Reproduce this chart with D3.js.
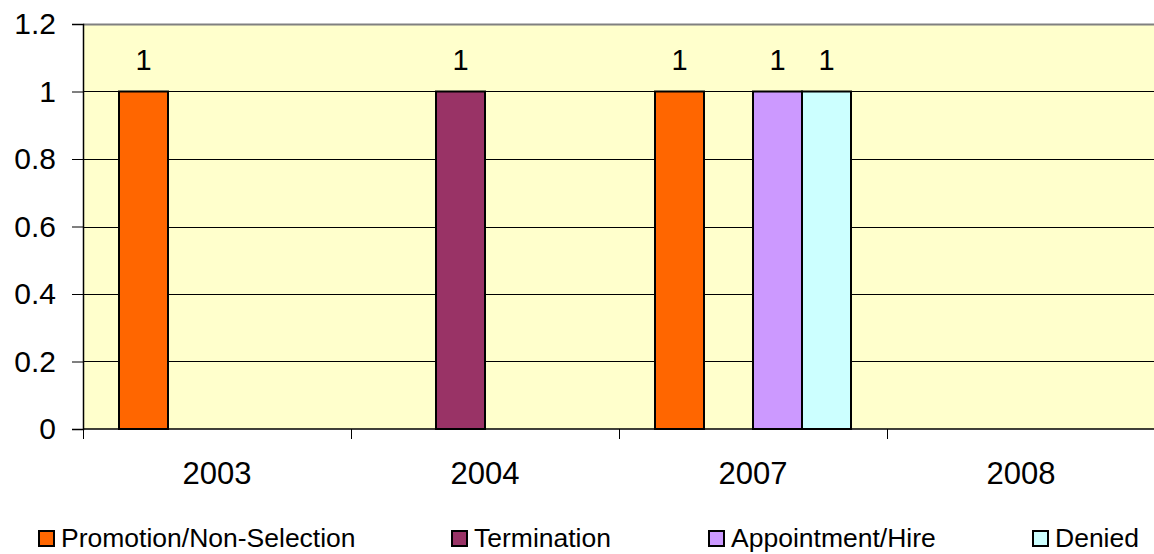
<!DOCTYPE html>
<html>
<head>
<meta charset="utf-8">
<script src="https://cdn.jsdelivr.net/npm/d3@7"></script>
<style>
  html, body { margin: 0; padding: 0; background: #fff; }
  svg { display: block; font-family: Arial, "Liberation Sans", sans-serif; }
</style>
</head>
<body>
<svg id="chart" width="1154" height="554"></svg>
<script>
// ---- data ----
const categories = ["2003", "2004", "2007", "2008"];
const seriesNames = ["Promotion/Non-Selection", "Termination", "Appointment/Hire", "Denied"];
const promotionValues   = [1, null, 1, null];
const terminationValues = [null, 1, null, null];
const appointmentValues = [null, null, 1, null];
const deniedValues      = [null, null, 1, null];
const yTicks = [0, 0.2, 0.4, 0.6, 0.8, 1, 1.2];
const seriesColors = ["#FF6600", "#993366", "#CC99FF", "#CCFFFF"];

const seriesValues = [promotionValues, terminationValues, appointmentValues, deniedValues];

// ---- layout ----
const svg = d3.select("#chart");
const plot = { left: 83, top: 24, right: 1155, bottom: 429 };

const x = d3.scaleBand().domain(categories).range([plot.left, plot.right]).paddingInner(0).paddingOuter(0);
const xInner = d3.scaleBand().domain(seriesNames)
  .range([0, x.bandwidth()]).paddingInner(0).paddingOuter(0.7347);
const y = d3.scaleLinear().domain([0, 1.2]).range([plot.bottom, plot.top]);

// plot background
svg.append("rect")
  .attr("x", plot.left).attr("y", plot.top)
  .attr("width", plot.right - plot.left).attr("height", plot.bottom - plot.top)
  .attr("fill", "#FFFFCC");

// gridlines
svg.append("g").selectAll("line")
  .data(yTicks.filter(d => d > 0))
  .join("line")
  .attr("x1", plot.left).attr("x2", plot.right)
  .attr("y1", d => Math.round(y(d)) + 0.5).attr("y2", d => Math.round(y(d)) + 0.5)
  .attr("stroke", d => d === 1.2 ? "#808080" : "#000")
  .attr("stroke-width", d => d === 1.2 ? 2 : 1);

// bars
const flat = [];
seriesValues.forEach((vals, si) => {
  vals.forEach((v, ci) => {
    if (v !== null) flat.push({ series: seriesNames[si], si, cat: categories[ci], value: v });
  });
});

svg.append("g").selectAll("rect")
  .data(flat)
  .join("rect")
  .attr("x", d => x(d.cat) + xInner(d.series))
  .attr("y", d => y(d.value))
  .attr("width", xInner.bandwidth())
  .attr("height", d => y(0) - y(d.value))
  .attr("fill", d => seriesColors[d.si])
  .attr("stroke", "#000")
  .attr("stroke-width", 2);

// value labels
svg.append("g").selectAll("text")
  .data(flat)
  .join("text")
  .attr("x", d => x(d.cat) + xInner(d.series) + xInner.bandwidth() / 2)
  .attr("y", d => y(d.value) - 22)
  .attr("text-anchor", "middle")
  .attr("font-size", 29)
  .attr("fill", "#000")
  .text(d => d.value);

// y axis
const yAxis = d3.axisLeft(y).tickValues(yTicks).tickSize(11).tickPadding(16)
  .tickFormat(d => d3.format("~g")(d));
const gy = svg.append("g").attr("transform", `translate(${plot.left},0)`).call(yAxis);
gy.select(".domain").attr("stroke", "#000").attr("stroke-width", 1.5);
gy.selectAll(".tick line").attr("stroke", "#000");
gy.selectAll(".tick text").attr("font-size", 30).attr("font-family", "Arial, 'Liberation Sans', sans-serif").attr("fill", "#000");

// x axis
const gx = svg.append("g").attr("transform", `translate(0,${plot.bottom})`);
gx.append("line").attr("x1", plot.left).attr("x2", plot.right).attr("y1", 0).attr("y2", 0)
  .attr("stroke", "#000").attr("stroke-width", 1.5);
const boundaries = categories.map(c => x(c)).concat([plot.right]);
gx.selectAll("line.tk").data(boundaries).join("line").attr("class", "tk")
  .attr("x1", d => Math.round(d) + 0.5).attr("x2", d => Math.round(d) + 0.5)
  .attr("y1", 0).attr("y2", 10).attr("stroke", "#000");
gx.selectAll("text").data(categories).join("text")
  .attr("x", d => x(d) + x.bandwidth() / 2)
  .attr("y", 55)
  .attr("text-anchor", "middle")
  .attr("font-size", 31)
  .attr("fill", "#000")
  .text(d => d);

// legend
const legendSquareX = [38, 451, 708, 1032];
const leg = svg.append("g");
seriesNames.forEach((name, i) => {
  leg.append("rect")
    .attr("x", legendSquareX[i] + 1).attr("y", 531)
    .attr("width", 15).attr("height", 15)
    .attr("fill", seriesColors[i]).attr("stroke", "#000").attr("stroke-width", 2);
  leg.append("text")
    .attr("x", legendSquareX[i] + 23).attr("y", 547)
    .attr("font-size", 26.5).attr("fill", "#000")
    .text(name);
});
</script>
</body>
</html>
